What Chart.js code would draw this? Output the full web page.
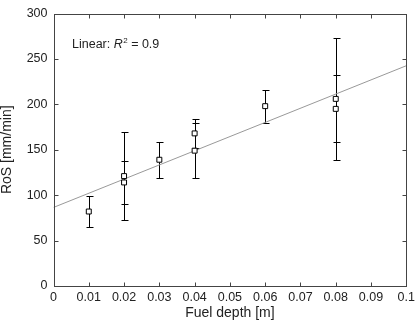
<!DOCTYPE html>
<html>
<head>
<meta charset="utf-8">
<script src="https://cdn.jsdelivr.net/npm/chart.js@4.4.0/dist/chart.umd.min.js"></script>
<style>
    html, body { margin: 0; padding: 0; background: #fff; }
    #wrap { width: 419px; height: 326px; }
</style>
</head>
<body>
<div id="wrap"><canvas id="rosChart" width="419" height="326"></canvas></div>
<script>
// fuel depth [m], rate of spread [mm/min] and error bar half-width
const depth = [0.01, 0.02, 0.02, 0.03, 0.04, 0.04, 0.06, 0.08, 0.08];
const ros = [82, 121, 114, 139, 168, 149, 198, 206, 195];
const rosErr = [17, 48, 24, 20, 16, 30, 18, 67, 37];

// linear fit end points
const fitX = [0, 0.1];
const fitY = [86.5, 242.5];

const xTickLabels = ['0', '0.01', '0.02', '0.03', '0.04', '0.05', '0.06', '0.07', '0.08', '0.09', '0.1'];
const yTickLabels = ['0', '50', '100', '150', '200', '250', '300'];

const FONT = '"Liberation Sans", Arial, sans-serif';
const frameColor = '#444';

const points = depth.map((d, i) => ({ x: d, y: ros[i] }));
const fitLine = fitX.map((d, i) => ({ x: d, y: fitY[i] }));

// error bars, box frame, inward ticks and the R^2 label
const extras = {
    id: 'extras',
    beforeDatasetsDraw(chart) {
        const ctx = chart.ctx;
        const xs = chart.scales.x;
        const ys = chart.scales.y;
        ctx.save();
        ctx.strokeStyle = '#000';
        ctx.lineWidth = 1;
        depth.forEach((d, i) => {
            const px = Math.round(xs.getPixelForValue(d)) + 0.5;
            const top = Math.round(ys.getPixelForValue(ros[i] + rosErr[i])) + 0.5;
            const bot = Math.round(ys.getPixelForValue(ros[i] - rosErr[i])) + 0.5;
            ctx.beginPath();
            ctx.moveTo(px, top);
            ctx.lineTo(px, bot);
            ctx.moveTo(px - 3, top);
            ctx.lineTo(px + 4, top);
            ctx.moveTo(px - 3, bot);
            ctx.lineTo(px + 4, bot);
            ctx.stroke();
        });
        ctx.restore();
    },
    afterDatasetsDraw(chart) {
        const ctx = chart.ctx;
        const a = chart.chartArea;
        const xs = chart.scales.x;
        const ys = chart.scales.y;
        ctx.save();
        ctx.strokeStyle = frameColor;
        ctx.lineWidth = 1;
        const l = Math.round(a.left) + 0.5, r = Math.round(a.right) + 0.5;
        const t = Math.round(a.top) + 0.5, b = Math.round(a.bottom) + 0.5;
        ctx.strokeRect(l, t, r - l, b - t);
        ctx.beginPath();
        xTickLabels.forEach((lab, i) => {
            const px = Math.round(xs.getPixelForValue(i * 0.01)) + 0.5;
            ctx.moveTo(px, b); ctx.lineTo(px, b - 4);
            ctx.moveTo(px, t); ctx.lineTo(px, t + 4);
        });
        yTickLabels.forEach((lab, i) => {
            const py = Math.round(ys.getPixelForValue(i * 50)) + 0.5;
            ctx.moveTo(l, py); ctx.lineTo(l + 4, py);
            ctx.moveTo(r, py); ctx.lineTo(r - 4, py);
        });
        ctx.stroke();

        // annotation
        ctx.fillStyle = '#222';
        ctx.textBaseline = 'alphabetic';
        ctx.font = '12.5px ' + FONT;
        let tx = 72, ty = 48;
        ctx.fillText('Linear: ', tx, ty);
        tx += ctx.measureText('Linear: ').width;
        ctx.font = 'italic 12.5px ' + FONT;
        ctx.fillText('R', tx, ty);
        tx += ctx.measureText('R').width;
        ctx.font = '8px ' + FONT;
        ctx.fillText('2', tx + 0.5, ty - 5);
        tx += ctx.measureText('2').width + 0.5;
        ctx.font = '12.5px ' + FONT;
        ctx.fillText(' = 0.9', tx, ty);
        ctx.restore();
    }
};

new Chart(document.getElementById('rosChart'), {
    type: 'scatter',
    data: {
        datasets: [
            {
                type: 'line',
                data: fitLine,
                borderColor: '#999',
                borderWidth: 1,
                pointRadius: 0,
                fill: false,
                order: 2
            },
            {
                data: points,
                pointStyle: 'rect',
                pointRadius: 3.5,
                pointBorderWidth: 1,
                borderColor: '#000',
                backgroundColor: '#fff',
                order: 1
            }
        ]
    },
    options: {
        responsive: false,
        animation: false,
        devicePixelRatio: 1,
        layout: { padding: { top: 5, right: 7, left: 0, bottom: 0 } },
        plugins: {
            legend: { display: false },
            tooltip: { enabled: false }
        },
        scales: {
            x: {
                type: 'linear',
                min: 0,
                max: 0.1,
                grid: { display: false, drawTicks: false },
                border: { display: false },
                afterBuildTicks(scale) {
                    scale.ticks = xTickLabels.map((lab, i) => ({ value: i * 0.01 }));
                },
                afterFit(scale) { scale.height = 40; },
                ticks: {
                    color: '#222',
                    font: { family: FONT, size: 12.5 },
                    padding: 4,
                    maxRotation: 0,
                    autoSkip: false,
                    callback: (v, i) => xTickLabels[i]
                },
                title: {
                    display: true,
                    text: 'Fuel depth [m]',
                    color: '#222',
                    font: { family: FONT, size: 14, lineHeight: 1 },
                    padding: { top: 2, bottom: 6 }
                }
            },
            y: {
                type: 'linear',
                min: 0,
                max: 300,
                grid: { display: false, drawTicks: false },
                border: { display: false },
                afterBuildTicks(scale) {
                    scale.ticks = yTickLabels.map((lab, i) => ({ value: i * 50 }));
                },
                afterFit(scale) { scale.width = 53.5; },
                ticks: {
                    color: '#222',
                    font: { family: FONT, size: 12.5 },
                    padding: 6,
                    callback: (v, i) => yTickLabels[i]
                },
                title: {
                    display: true,
                    text: 'RoS [mm/min]',
                    color: '#222',
                    font: { family: FONT, size: 14, lineHeight: 1 },
                    padding: { top: 0, bottom: 4 }
                }
            }
        }
    },
    plugins: [extras]
});
</script>
</body>
</html>
